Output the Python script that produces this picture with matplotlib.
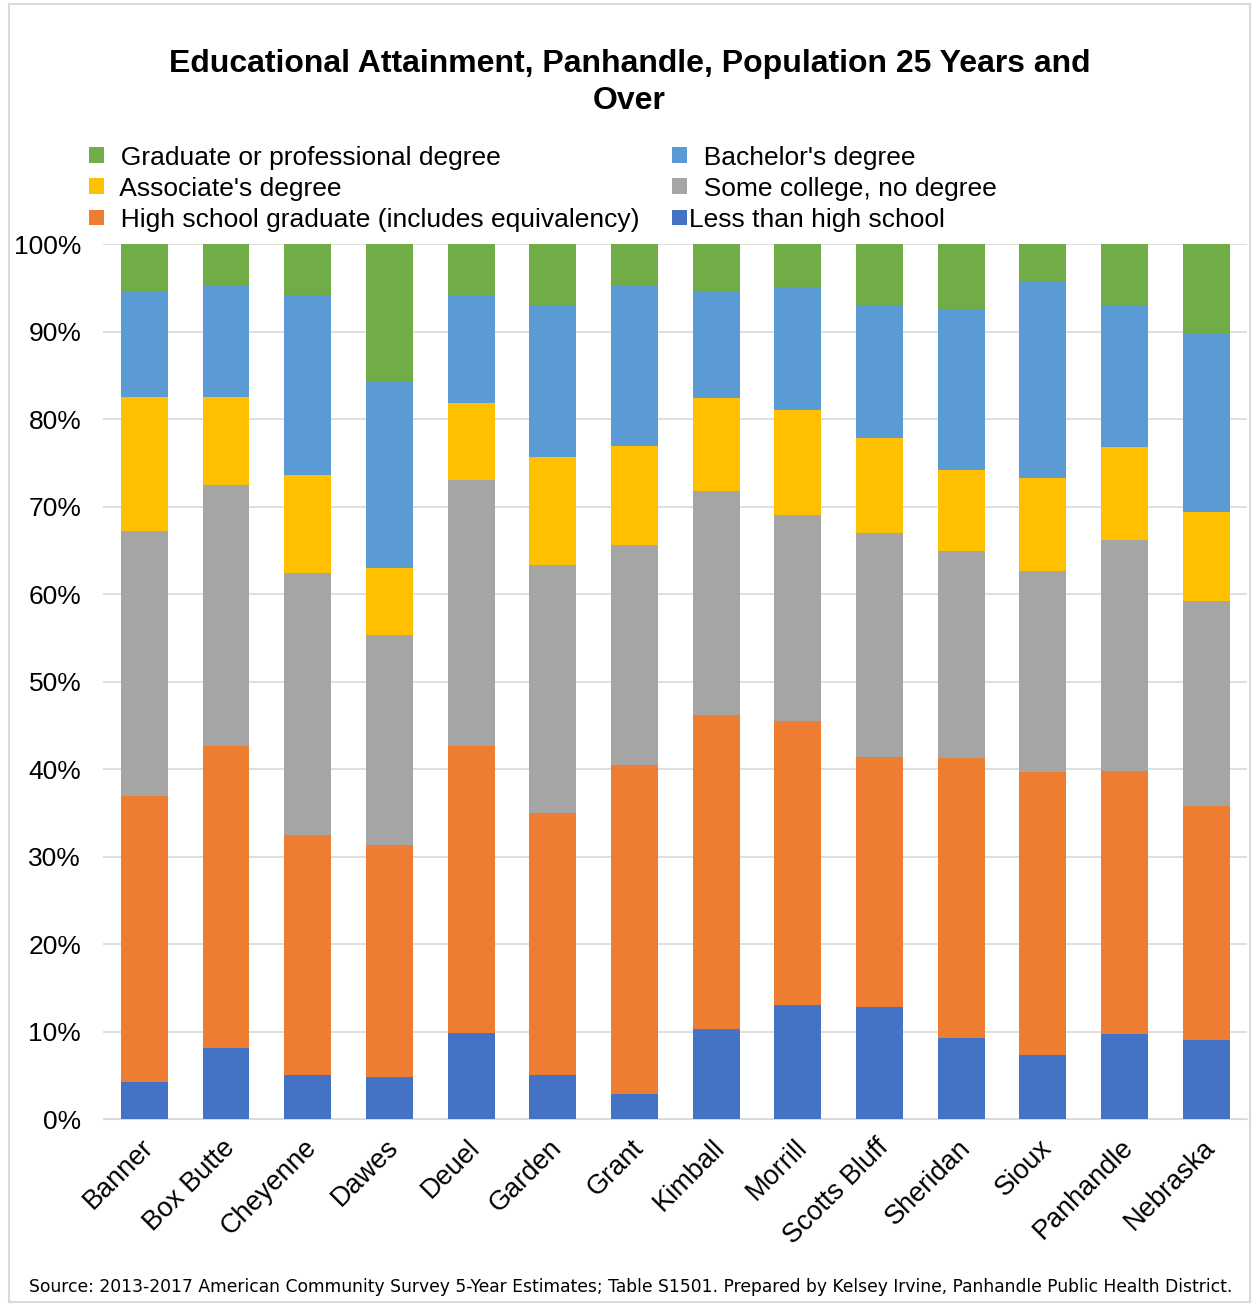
import numpy as np
import matplotlib.pyplot as plt
from matplotlib.transforms import ScaledTranslation

# ==============================
# Data (percent of population 25+)
# ==============================

counties = ["Banner", "Box Butte", "Cheyenne", "Dawes", "Deuel", "Garden", "Grant",
            "Kimball", "Morrill", "Scotts Bluff", "Sheridan", "Sioux", "Panhandle", "Nebraska"]

less_than_hs = [4.2, 8.1, 5.0, 4.8, 9.8, 5.1, 2.9, 10.3, 13.0, 12.8, 9.3, 7.3, 9.7, 9.0]
high_school = [32.7, 34.6, 27.5, 26.5, 32.9, 29.9, 37.6, 35.9, 32.5, 28.6, 32.0, 32.4, 30.1, 26.8]
some_college = [30.3, 29.8, 29.9, 24.0, 30.4, 28.3, 25.1, 25.6, 23.6, 25.6, 23.6, 23.0, 26.4, 23.4]
associate = [15.3, 10.0, 11.2, 7.7, 8.7, 12.4, 11.3, 10.6, 11.9, 10.9, 9.3, 10.6, 10.6, 10.2]
bachelor = [12.0, 12.8, 20.6, 21.3, 12.3, 17.4, 18.4, 12.1, 14.1, 15.1, 18.4, 22.5, 16.1, 20.3]
graduate = [5.5, 4.7, 5.8, 15.7, 5.9, 6.9, 4.7, 5.5, 4.9, 7.0, 7.4, 4.2, 7.1, 10.3]

series = [
    ("Less than high school", less_than_hs, "#4472C4"),
    ("High school graduate (includes equivalency)", high_school, "#ED7D31"),
    ("Some college, no degree", some_college, "#A5A5A5"),
    ("Associate's degree", associate, "#FFC000"),
    ("Bachelor's degree", bachelor, "#5B9BD5"),
    ("Graduate or professional degree", graduate, "#70AD47"),
]

plt.rcParams['font.family'] = ['Liberation Sans', 'DejaVu Sans']

fig = plt.figure(figsize=(12.54, 13.06), dpi=100)
ax = fig.add_axes([0.0825, 0.143, 0.912, 0.67])

x = np.arange(len(counties))
bottom = np.zeros(len(counties))
bars = {}
for name, vals, color in series:
    vals = np.array(vals)
    bars[name] = ax.bar(x, vals, 0.575, bottom=bottom, color=color, label=name, zorder=3)
    bottom += vals

ax.set_ylim(0, 100)
ax.set_xlim(-0.5, len(counties) - 0.5)
ax.set_yticks(np.arange(0, 101, 10))
ax.set_yticklabels([f"{v}%" for v in range(0, 101, 10)], fontsize=19)
ax.set_xticks(x)
ax.set_xticklabels(counties, rotation=45, ha="right", rotation_mode="anchor", fontsize=19.5)
ax.tick_params(axis="y", length=0, pad=16)
ax.tick_params(axis="x", length=0, pad=11)
# nudge the rotated county names a little to the left
for lbl in ax.get_xticklabels():
    lbl.set_transform(lbl.get_transform() + ScaledTranslation(-0.04, 0, fig.dpi_scale_trans))
ax.grid(axis="y", color="#D9D9D9", linewidth=1.2, zorder=0)
for s in ["top", "right", "left"]:
    ax.spines[s].set_visible(False)
ax.spines["bottom"].set_color("#D9D9D9")

# legend is filled column by column, reference reads row by row
order = ["Graduate or professional degree", "Associate's degree",
         "High school graduate (includes equivalency)", "Bachelor's degree",
         "Some college, no degree", "Less than high school"]
labels = ["  " + n if n != "Less than high school" else n for n in order]
ax.legend([bars[n] for n in order], labels, ncol=2, loc="lower left",
          bbox_to_anchor=(-0.0332, 0.987), frameon=False, fontsize=19,
          handlelength=0.55, handleheight=0.55, handletextpad=0.1,
          columnspacing=1.23, labelspacing=0.27)

fig.text(0.502, 0.937, "Educational Attainment, Panhandle, Population 25 Years and\nOver",
         ha="center", va="center", fontsize=23, fontweight="bold", linespacing=1.29)
fig.text(0.503, 0.0145, "Source: 2013-2017 American Community Survey 5-Year Estimates; Table S1501. "
         "Prepared by Kelsey Irvine, Panhandle Public Health District.",
         ha="center", va="center", fontsize=12.3, family="DejaVu Sans")

fig.patches.append(plt.Rectangle((0.007, 0.003), 0.99, 0.994, transform=fig.transFigure,
                                 fill=False, edgecolor="#D9D9D9", linewidth=1.5))

fig.savefig("out.png", dpi=100)
